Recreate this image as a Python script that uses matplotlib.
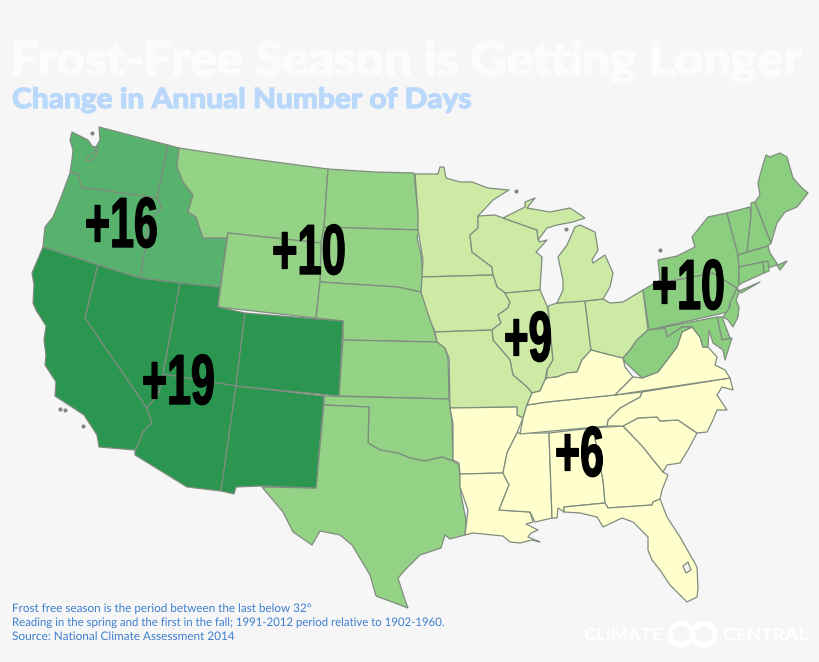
#!/usr/bin/env python3
"""Frost-free season map, contiguous US, drawn in image pixel coordinates."""
import matplotlib
matplotlib.use("Agg")
import matplotlib.pyplot as plt
from matplotlib.patches import Polygon, Circle
from matplotlib.patheffects import AbstractPathEffect
from matplotlib.transforms import Affine2D

# Region values (change in annual number of days)
region_labels = ["+16", "+10", "+19", "+9", "+6", "+10"]
region_names = ["northwest", "plains", "southwest", "midwest", "southeast", "northeast"]
region_colors = {
    "northwest": "#56b26c",
    "plains": "#94d286",
    "southwest": "#2a9650",
    "midwest": "#cdeaa4",
    "southeast": "#ffffcd",
    "northeast": "#8cce80",
}

# State outlines
WA = [(72, 132), (70, 140), (73, 150), (72, 160), (70, 172), (77, 173), (82, 188), (103, 190), (120, 193), (157, 198), (168, 145), (99, 127), (100, 140), (96, 147), (94, 153), (87, 157), (86, 161), (93, 160), (97, 153), (98, 148), (92, 146), (88, 140), (80, 136)]
OR = [(70, 173), (77, 173), (82, 188), (103, 190), (120, 193), (157, 198), (162, 207), (148, 223), (145, 250), (140, 278), (98, 265), (43, 247), (45, 227), (53, 217), (60, 200)]
ID = [(168, 145), (179, 148), (177, 167), (183, 182), (193, 195), (188, 212), (196, 217), (203, 238), (227, 238), (220, 287), (180, 283), (140, 278), (145, 250), (148, 223), (162, 207), (157, 198)]
MT = [(179, 148), (245, 158), (328, 169), (324, 227), (321, 243), (228, 233), (227, 238), (203, 238), (196, 217), (188, 212), (193, 195), (183, 182), (177, 167)]
ND = [(328, 169), (375, 172), (414, 173), (418, 213), (420, 230), (324, 227)]
SD = [(324, 227), (420, 230), (417, 237), (421, 255), (423, 277), (421, 292), (412, 290), (397, 287), (320, 282), (321, 243)]
WY = [(228, 233), (321, 243), (320, 282), (316, 318), (218, 307)]
NE = [(320, 282), (397, 287), (412, 290), (421, 292), (426, 305), (432, 323), (437, 342), (343, 340), (343, 321), (316, 318)]
KS = [(343, 340), (437, 342), (445, 348), (448, 358), (449, 399), (339, 396)]
CO = [(245, 313), (343, 321), (339, 396), (236, 386)]
UT = [(180, 283), (220, 287), (218, 307), (245, 313), (236, 386), (163, 374)]
NV = [(98, 265), (140, 278), (180, 283), (163, 374), (159, 393), (147, 408), (85, 318)]
CA = [(43, 247), (98, 265), (85, 318), (147, 408), (152, 423), (143, 432), (138, 445), (135, 450), (99, 447), (97, 435), (84, 415), (55, 396), (56, 382), (45, 365), (46, 355), (44, 340), (46, 326), (36, 310), (33, 303), (34, 285), (32, 273)]
AZ = [(163, 374), (236, 386), (221, 491), (187, 487), (135, 455), (135, 450), (138, 445), (143, 432), (152, 423), (147, 408), (159, 393)]
NM = [(236, 386), (324, 396), (316, 488), (260, 486), (236, 487), (234, 494), (221, 491)]
OK = [(324, 396), (449, 399), (452, 420), (453, 461), (442, 457), (425, 461), (410, 458), (398, 453), (380, 450), (368, 443), (369, 407), (324, 405)]
TX = [(324, 405), (369, 407), (368, 443), (380, 450), (398, 453), (410, 458), (425, 461), (442, 457), (453, 461), (459, 465), (461, 495), (466, 520), (465, 535), (450, 539), (445, 535), (441, 548), (420, 555), (405, 570), (398, 578), (405, 600), (408, 608), (395, 603), (376, 596), (370, 575), (352, 545), (340, 535), (320, 531), (312, 545), (293, 532), (287, 520), (283, 512), (262, 487), (316, 488)]
MN = [(415, 174), (438, 174), (440, 167), (444, 167), (446, 178), (460, 182), (472, 182), (488, 188), (509, 190), (493, 200), (478, 216), (478, 228), (470, 235), (472, 252), (492, 267), (493, 275), (422, 277), (423, 260), (418, 230), (418, 213)]
WI = [(478, 216), (495, 215), (503, 218), (537, 230), (539, 242), (547, 240), (538, 250), (536, 252), (542, 257), (540, 290), (505, 293), (497, 287), (493, 275), (492, 267), (472, 252), (470, 235), (478, 228)]
IA = [(422, 277), (493, 275), (497, 287), (505, 293), (510, 302), (508, 308), (498, 315), (501, 323), (492, 330), (435, 332), (430, 320), (421, 292)]
IL = [(505, 293), (540, 290), (547, 306), (548, 310), (553, 360), (547, 370), (545, 380), (540, 391), (532, 393), (527, 387), (513, 375), (510, 360), (493, 340), (492, 330), (501, 323), (498, 315), (508, 308), (510, 302)]
IN = [(548, 306), (557, 303), (585, 301), (591, 350), (582, 360), (577, 372), (567, 373), (557, 377), (547, 378), (547, 370), (553, 360)]
OH = [(585, 301), (603, 299), (610, 303), (623, 302), (643, 290), (648, 330), (637, 340), (630, 350), (623, 358), (610, 355), (591, 350)]
MI_lower = [(557, 303), (563, 290), (563, 280), (558, 257), (567, 245), (575, 227), (580, 225), (595, 232), (598, 250), (592, 260), (593, 263), (605, 255), (613, 273), (610, 287), (603, 299), (585, 301)]
MI_upper = [(503, 218), (525, 207), (525, 202), (535, 198), (527, 208), (550, 212), (570, 208), (585, 218), (573, 222), (557, 225), (547, 228), (538, 240), (537, 230)]
MO = [(435, 332), (492, 330), (493, 340), (510, 360), (513, 375), (527, 387), (532, 393), (527, 405), (523, 418), (517, 415), (517, 407), (450, 408), (449, 358), (445, 348), (437, 342)]
AR = [(450, 408), (517, 407), (517, 415), (523, 418), (517, 433), (507, 453), (503, 473), (460, 474), (459, 463), (453, 460), (453, 423)]
LA = [(460, 474), (503, 473), (509, 485), (499, 510), (530, 512), (533, 522), (526, 524), (538, 530), (531, 533), (528, 537), (540, 542), (532, 540), (520, 543), (510, 542), (503, 536), (493, 535), (473, 533), (465, 535), (468, 510), (460, 487)]
MS = [(517, 433), (549, 433), (552, 518), (535, 522), (530, 512), (499, 510), (509, 485), (503, 473), (507, 453)]
AL = [(549, 433), (593, 428), (603, 480), (605, 503), (564, 507), (564, 512), (558, 508), (557, 518), (552, 518)]
GA = [(593, 428), (623, 426), (643, 447), (663, 472), (668, 475), (662, 490), (660, 499), (653, 502), (652, 505), (608, 508), (605, 503), (603, 480)]
FL = [(564, 507), (605, 503), (608, 508), (652, 505), (653, 502), (660, 499), (667, 517), (680, 537), (697, 567), (698, 588), (697, 597), (687, 602), (682, 597), (670, 585), (660, 570), (652, 560), (648, 550), (648, 537), (633, 522), (622, 518), (603, 527), (597, 517), (580, 513), (564, 512)]
SC = [(623, 426), (638, 418), (657, 417), (660, 421), (678, 420), (697, 433), (688, 450), (680, 463), (667, 465), (663, 472), (643, 447)]
NC = [(642, 392), (730, 378), (733, 390), (722, 387), (717, 395), (727, 410), (717, 410), (713, 420), (707, 432), (697, 433), (678, 420), (660, 421), (657, 417), (638, 418), (623, 426), (607, 426), (608, 420), (620, 408), (640, 397)]
TN = [(527, 405), (547, 402), (615, 395), (642, 392), (640, 397), (620, 408), (608, 420), (607, 426), (520, 434), (523, 418)]
KY = [(527, 405), (547, 402), (615, 395), (633, 377), (625, 367), (623, 358), (610, 355), (591, 350), (582, 360), (577, 372), (567, 373), (557, 377), (547, 378), (545, 380), (540, 391), (532, 393)]
VA = [(615, 395), (730, 378), (725, 370), (715, 365), (717, 357), (708, 347), (703, 347), (700, 337), (692, 327), (682, 332), (677, 347), (658, 372), (642, 378), (633, 377)]
WV = [(648, 330), (649, 330), (665, 328), (667, 337), (682, 327), (692, 327), (682, 332), (677, 347), (658, 372), (642, 378), (625, 362), (623, 358), (630, 350), (637, 340)]
PA = [(643, 290), (660, 280), (660, 283), (713, 273), (737, 288), (730, 303), (728, 312), (649, 330)]
NY = [(660, 280), (658, 260), (677, 256), (695, 247), (692, 237), (708, 217), (727, 213), (738, 255), (739, 267), (739, 285), (737, 288), (739, 291), (760, 282), (741, 293), (737, 288), (713, 273), (660, 283)]
VT = [(727, 213), (750, 207), (751, 216), (747, 252), (738, 255)]
NH = [(751, 203), (755, 202), (771, 243), (768, 246), (747, 252), (751, 216)]
ME = [(755, 202), (760, 195), (758, 183), (762, 168), (766, 155), (770, 157), (780, 153), (787, 157), (793, 178), (802, 188), (808, 193), (797, 207), (785, 212), (777, 223), (771, 243)]
MA = [(738, 255), (768, 246), (770, 253), (778, 265), (787, 261), (780, 270), (777, 265), (768, 268), (763, 262), (739, 267)]
RI = [(763, 262), (768, 261), (769, 271), (764, 273)]
CT = [(739, 267), (763, 262), (764, 273), (742, 283), (739, 285)]
NJ = [(737, 288), (739, 293), (736, 300), (739, 307), (738, 317), (733, 327), (728, 320), (723, 317), (730, 307), (730, 303)]
DE = [(717, 317), (722, 317), (730, 338), (722, 340)]
MD = [(649, 330), (717, 317), (722, 340), (732, 338), (725, 360), (723, 350), (713, 343), (709, 330), (708, 347), (703, 347), (700, 337), (692, 327), (682, 327), (667, 337), (665, 328)]

northwest_states = [WA, OR, ID]
plains_states = [MT, ND, SD, WY, NE, KS, OK, TX]
southwest_states = [CA, NV, UT, CO, AZ, NM]
midwest_states = [MN, WI, IA, IL, IN, OH, MI_lower, MI_upper, MO]
southeast_states = [AR, LA, MS, AL, GA, FL, SC, NC, TN, KY, VA]
northeast_states = [PA, NY, VT, NH, ME, MA, RI, CT, NJ, DE, MD, WV]

# Small islands and the lake in Florida
island_x = [92, 60, 65, 83, 516, 566, 660]
island_y = [133, 409, 410, 426, 191, 229, 250]
lake_okeechobee = [(683, 566), (688, 562), (691, 570), (686, 573)]

BG = "#f6f6f6"
EDGE = "#7f8d7f"


class HScale(AbstractPathEffect):
    """Squeeze text sideways and thicken it, there is no condensed black font here."""

    def __init__(self, sx, x0, bold=0):
        self.sx = sx
        self.x0 = x0
        self.bold = bold

    def draw_path(self, renderer, gc, tpath, affine, rgbFace=None):
        t = affine + Affine2D().translate(-self.x0, 0).scale(self.sx, 1).translate(self.x0, 0)
        gc0 = renderer.new_gc()
        gc0.copy_properties(gc)
        if self.bold:
            gc0.set_linewidth(self.bold)
            gc0.set_foreground(rgbFace)
        renderer.draw_path(gc0, tpath, t, rgbFace)
        gc0.restore()


def fit_text(x0, x1, base, s, bold=0, **kw):
    # text from x0 to x1 in pixels, sitting on baseline base
    t = ax.text(x0, base, s, ha="left", va="baseline", **kw)
    w = t.get_window_extent(fig.canvas.get_renderer()).width
    t.set_path_effects([HScale((x1 - x0) / w, ax.transData.transform((x0, base))[0], bold)])
    return t


fig = plt.figure(figsize=(8.2, 6.62), dpi=100, facecolor=BG)
ax = fig.add_axes([0, 0, 1, 1])
ax.set_xlim(0, 820)
ax.set_ylim(662, 0)
ax.axis("off")

groups = [northwest_states, plains_states, southwest_states, midwest_states, southeast_states, northeast_states]
for name, states in zip(region_names, groups):
    for st in states:
        ax.add_patch(Polygon(st, closed=True, facecolor=region_colors[name], edgecolor=EDGE, linewidth=0.9, joinstyle="round"))
ax.scatter(island_x, island_y, s=9, color="#808a80", linewidths=0)
ax.add_patch(Polygon(lake_okeechobee, closed=True, facecolor=BG, edgecolor=EDGE, linewidth=0.9))

# Big numbers
num_font = ["Liberation Sans Narrow", "Liberation Sans"]
num_pos = [(85, 158, 248), (272, 346, 275), (142, 215, 405), (504, 552, 362), (555, 604, 477), (652, 725, 310)]
for lab, (x0, x1, base) in zip(region_labels, num_pos):
    fit_text(x0, x1, base - 1, lab, bold=1.0, family=num_font, weight="bold", fontsize=51, color="black")

# Titles
fit_text(10, 803, 75, "Frost-Free Season is Getting Longer", bold=1.6, family="Lato", weight="bold", fontsize=33, color="#fcfcfc")
fit_text(12, 471, 108, "Change in Annual Number of Days", bold=1.0, family="Lato", weight="bold", fontsize=20, color="#b9d8fb")

# Footnote
foot_color = "#3f7fcf"
fit_text(12, 312, 612, "Frost free season is the period between the last below 32°", family="Lato", fontsize=8.5, color=foot_color)
fit_text(12, 446, 626, "Reading in the spring and the first in the fall; 1991-2012 period relative to 1902-1960.", family="Lato", fontsize=8.5, color=foot_color)
fit_text(12, 235, 640, "Source: National Climate Assessment 2014", family="Lato", fontsize=8.5, color=foot_color)

# Logo
fit_text(584, 662, 640, "CLIMATE", family="Lato", weight="bold", fontsize=12, color="#ffffff")
fit_text(723, 808, 640, "CENTRAL", family="Lato", weight="bold", fontsize=12, color="#ffffff")
for cx in [681, 704]:
    ax.add_patch(Circle((cx, 634), 11, facecolor="none", edgecolor="#ffffff", linewidth=3.5))

fig.savefig("out.png", dpi=100, facecolor=BG)
